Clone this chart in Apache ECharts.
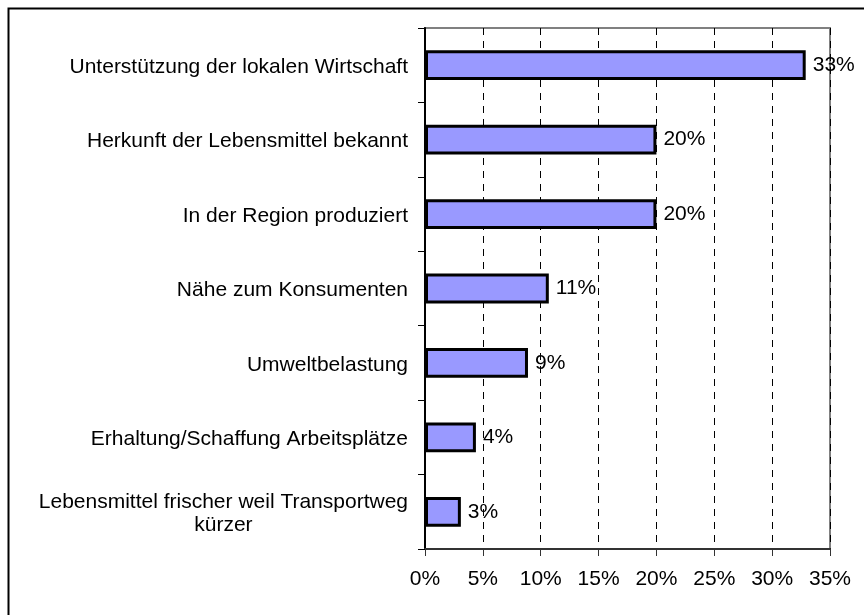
<!DOCTYPE html>
<html lang="de">
<head>
    <meta charset="UTF-8">
    <title>Gründe</title>
    <script src="https://cdn.jsdelivr.net/npm/echarts@6/dist/echarts.min.js"></script>
    <style>
        *{
            margin: 0;
            padding: 0;
        }
        html,body{
            width: 100%;
            height: 100%;
            background: #fff;
        }
        .main{
            width: 864px;
            height: 615px;
        }
    </style>
</head>
<body>
<div class="main"></div>
<script>
    // categories top to bottom
    let categories = [
        'Unterstützung der lokalen Wirtschaft',
        'Herkunft der Lebensmittel bekannt',
        'In der Region produziert',
        'Nähe zum Konsumenten',
        'Umweltbelastung',
        'Erhaltung/Schaffung Arbeitsplätze',
        'Lebensmittel frischer weil Transportweg\nkürzer'
    ];
    let values = [32.9, 20, 20, 10.7, 8.9, 4.4, 3.1];
    let tickLabels = ['0%', '5%', '10%', '15%', '20%', '25%', '30%', '35%'];

    let font = 'Liberation Sans, Arial, sans-serif';
    let main = echarts.init(document.getElementsByClassName('main')[0]);
    let option = {
        backgroundColor: '#fff',
        animation: false,
        graphic: [{
            type: 'rect',
            left: 6,
            top: 6,
            shape: {width: 1000, height: 1000},
            style: {fill: 'none', stroke: '#000', lineWidth: 2}
        }],
        grid: {
            left: 425,
            right: 34,
            top: 28,
            bottom: 66,
            show: true,
            borderColor: '#808080',
            borderWidth: 2
        },
        xAxis: {
            type: 'value',
            min: 0,
            max: 35,
            interval: 5,
            axisLine: {show: true, lineStyle: {color: '#333', width: 2}},
            axisTick: {show: true, length: 7, lineStyle: {color: '#333', width: 1}},
            axisLabel: {
                margin: 20,
                fontSize: 21,
                fontFamily: font,
                color: '#000',
                formatter: function (v) {
                    return tickLabels[Math.round(v / 5)];
                }
            },
            splitLine: {
                show: true,
                lineStyle: {color: '#000', type: [7, 6], width: 1}
            }
        },
        yAxis: {
            type: 'category',
            inverse: true,
            data: categories,
            axisLine: {show: true, lineStyle: {color: '#000', width: 2}},
            axisTick: {show: true, length: 7, lineStyle: {color: '#000', width: 1}},
            axisLabel: {
                margin: 17,
                fontSize: 21,
                fontFamily: font,
                color: '#000',
                formatter: function (v) {
                    return v.split('\n').map(s => '{a|' + s + '}').join('\n');
                },
                rich: {
                    a: {
                        align: 'center',
                        fontSize: 21,
                        lineHeight: 23,
                        fontFamily: font,
                        color: '#000',
                        padding: [4, 0, 0, 0]
                    }
                }
            }
        },
        series: [{
            type: 'bar',
            data: values,
            barCategoryGap: '60%',
            itemStyle: {
                color: '#9999ff',
                borderColor: '#000',
                borderWidth: 3
            },
            label: {
                show: true,
                position: 'right',
                distance: 7,
                fontSize: 21,
                fontFamily: font,
                color: '#000',
                formatter: function (p) {
                    return Math.round(p.value) + '%';
                }
            }
        }]
    };
    main.setOption(option);
</script>
</body>
</html>
